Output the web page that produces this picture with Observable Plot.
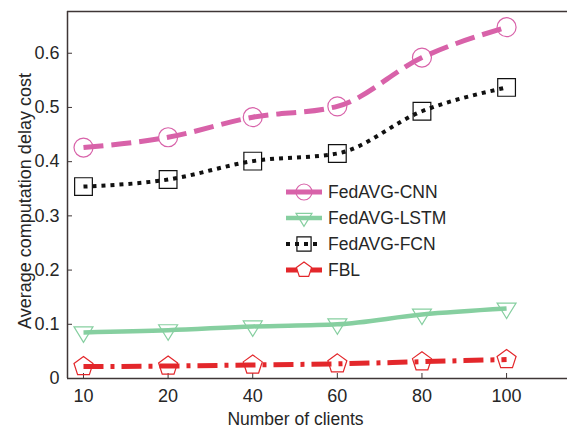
<!DOCTYPE html>
<html>
<head>
<meta charset="utf-8">
<script src="https://cdn.jsdelivr.net/npm/d3@7"></script>
<script src="https://cdn.jsdelivr.net/npm/@observablehq/plot@0.6"></script>
<style>
  html, body { margin: 0; padding: 0; background: #fff; }
  #wrap { position: relative; width: 567px; height: 430px; font-family: "Liberation Sans", Arial, sans-serif; }
  #legend { position: absolute; left: 284px; top: 179px; font-size: 17.5px; color: #262626; }
  .row { display: flex; align-items: center; height: 26px; }
  .row svg { margin-right: 4px; }
</style>
</head>
<body>
<div id="wrap"><div id="legend"></div></div>
<script>
// ---- data ----
const clients = [10, 20, 40, 60, 80, 100];
const seriesNames = ["FedAVG-CNN", "FedAVG-LSTM", "FedAVG-FCN", "FBL"];
const cnn  = [0.426, 0.445, 0.482, 0.502, 0.592, 0.648];
const lstm = [0.085, 0.089, 0.096, 0.100, 0.118, 0.129];
const fcn  = [0.354, 0.367, 0.401, 0.415, 0.493, 0.537];
const fbl  = [0.022, 0.023, 0.025, 0.027, 0.031, 0.035];
const yTicks = [0, 0.1, 0.2, 0.3, 0.4, 0.5, 0.6];
const xLabel = "Number of clients";
const yLabel = "Average computation delay cost";

// ---- custom symbols ----
const triangleDown = {
  draw(ctx, size) {
    const r = Math.sqrt(size / Math.PI) * 1.05;
    ctx.moveTo(0, r);
    ctx.lineTo(-r * 0.95, -r * 0.55);
    ctx.lineTo(r * 0.95, -r * 0.55);
    ctx.closePath();
  }
};
const pentagon = {
  draw(ctx, size) {
    const r = Math.sqrt(size / Math.PI);
    for (let k = 0; k < 5; k++) {
      const a = -Math.PI / 2 + k * 2 * Math.PI / 5;
      const x = r * Math.cos(a), y = r * Math.sin(a);
      if (k === 0) ctx.moveTo(x, y); else ctx.lineTo(x, y);
    }
    ctx.closePath();
  }
};

// ---- styles ----
const styles = [
  {color: "#d862a9", width: 5, dash: "20,8", symbol: "circle", r: 9.5},
  {color: "#86cfa0", width: 4.5, dash: null, symbol: triangleDown, r: 9.5},
  {color: "#111111", width: 4, dash: "4,5", symbol: "square", r: 10},
  {color: "#e3272b", width: 5, dash: "20,7,4,7", symbol: pentagon, r: 10}
];
const values = [cnn, lstm, fcn, fbl];
const data = seriesNames.map((s, k) => clients.map((c, i) => ({s, k, i, c, v: values[k][i]})));

const x0 = -0.189, x1 = 5.72, yTop = 0.677;
const frameColor = "#3f3636";
const textColor = "#262626";

const marks = [
  Plot.ruleY([0, yTop], {stroke: frameColor, strokeWidth: 1.5}),
  Plot.ruleX([x0], {stroke: frameColor, strokeWidth: 1.5}),
  Plot.axisX({ticks: d3.range(clients.length), tickFormat: i => clients[i], tickSize: -5, tickPadding: 16,
    stroke: frameColor, color: textColor, label: null, fontSize: 18}),
  Plot.axisY({ticks: yTicks, tickFormat: d => d === 0 ? "0" : d3.format(".1f")(d), tickSize: -5, tickPadding: 13,
    stroke: frameColor, color: textColor, label: null, fontSize: 18}),
  Plot.text([xLabel], {text: d => d, frameAnchor: "bottom", lineAnchor: "bottom", textAnchor: "middle", dx: -22, dy: 46, fill: textColor, fontSize: 17.5}),
  Plot.text([yLabel], {text: d => d, frameAnchor: "left", lineAnchor: "top", textAnchor: "middle", rotate: -90, dx: -49, dy: 6, fill: textColor, fontSize: 18})
];
data.forEach((d, k) => {
  const st = styles[k];
  marks.push(Plot.line(d, {x: "i", y: "v", stroke: st.color, strokeWidth: st.width,
    strokeDasharray: st.dash, strokeLinecap: "butt", curve: "monotone-x"}));
  marks.push(Plot.dot(d, {x: "i", y: "v", r: st.r, symbol: st.symbol, stroke: st.color, strokeWidth: 1.2, fill: "none"}));
});

const chart = Plot.plot({
  width: 567, height: 430,
  marginLeft: 67, marginTop: 11, marginRight: 0, marginBottom: 52,
  style: {fontFamily: "'Liberation Sans', Arial, sans-serif", fontSize: "18px", background: "#fff", color: textColor},
  x: {type: "linear", domain: [x0, x1]},
  y: {domain: [0, yTop]},
  marks
});
document.getElementById("wrap").prepend(chart);

// ---- legend ----
const leg = d3.select("#legend");
seriesNames.forEach((name, k) => {
  const st = styles[k];
  const row = leg.append("div").attr("class", "row");
  const svg = row.append("svg").attr("width", 40).attr("height", 26);
  svg.append("line").attr("x1", 2).attr("x2", 38).attr("y1", 13).attr("y2", 13)
    .attr("stroke", st.color).attr("stroke-width", st.width)
    .attr("stroke-dasharray", k === 2 ? "4,5" : null);
  const sym = typeof st.symbol === "string" ? (st.symbol === "circle" ? d3.symbolCircle : d3.symbolSquare) : st.symbol;
  svg.append("path").attr("transform", "translate(20,13)")
    .attr("d", d3.symbol(sym, Math.PI * 8 * 8)())
    .attr("fill", k === 3 ? "#fff" : "none").attr("stroke", st.color).attr("stroke-width", 1.2);
  row.append("span").text(name);
});
</script>
</body>
</html>
